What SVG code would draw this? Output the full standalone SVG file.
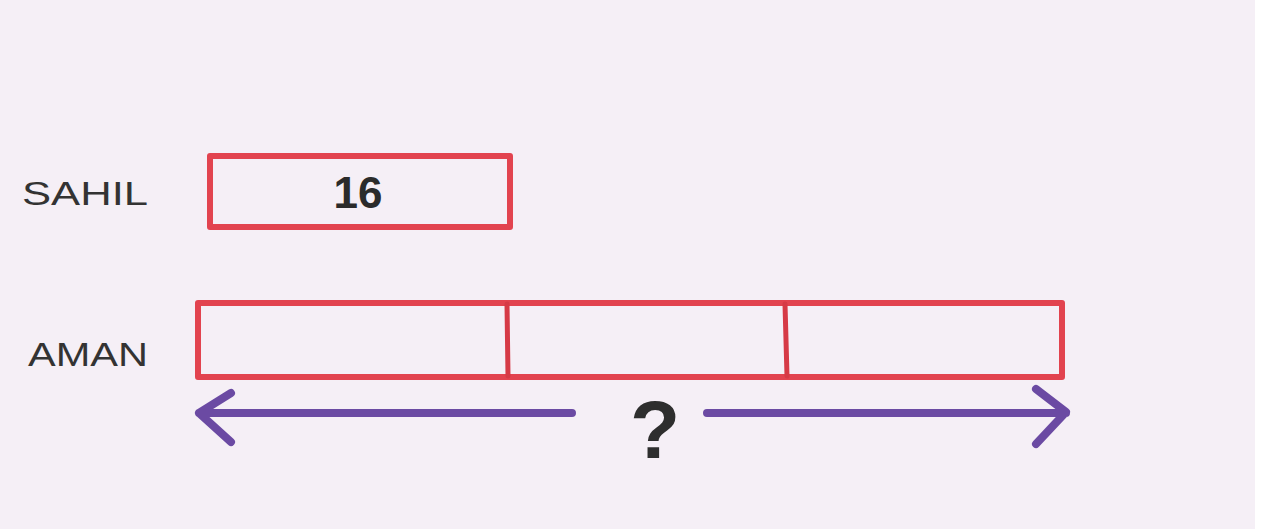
<svg xmlns="http://www.w3.org/2000/svg" width="1266" height="529" viewBox="0 0 1266 529">
<style>
.box{fill:none;stroke:#e2434f;stroke-width:6;stroke-linejoin:round}
.div{stroke:#d63a46;stroke-width:5;stroke-linecap:round}
.arr{fill:none;stroke:#6b4aa3;stroke-width:8;stroke-linecap:round;stroke-linejoin:round}
.lbl{font-family:"Liberation Sans",sans-serif;font-size:34px;fill:#333;font-weight:300}
.num{font-family:"Liberation Sans",sans-serif;font-size:44px;font-weight:bold;fill:#2b2b2b}
</style>
<rect x="0" y="0" width="1266" height="529" fill="#ffffff"/>
<rect x="0" y="0" width="1255" height="529" fill="#f5eff6"/>
<g id="sahil-label"><text class="lbl" x="22" y="205" textLength="126" lengthAdjust="spacingAndGlyphs">SAHIL</text></g>
<g id="sahil-bar">
<rect class="box" x="210" y="156" width="300" height="71"/>
<text class="num" x="358" y="208" text-anchor="middle">16</text>
</g>
<g id="aman-label"><text class="lbl" x="28" y="366" textLength="120" lengthAdjust="spacingAndGlyphs">AMAN</text></g>
<g id="aman-bar">
<rect class="box" x="198" y="303" width="864" height="74"/>
<line class="div" x1="507" y1="304" x2="508" y2="376"/>
<line class="div" x1="785" y1="304" x2="787" y2="376"/>
</g>
<g id="connectors">
<path class="arr" d="M572 413 H199 M231 393 L199 413 L231 442"/>
<path class="arr" d="M707 413 H1066 M1036 389 L1066 412 L1036 444"/>
</g>
<g id="question"><text x="655" y="458" text-anchor="middle" font-family="Liberation Sans, sans-serif" font-size="82" font-weight="bold" fill="#2e2e2e">?</text></g>
</svg>
